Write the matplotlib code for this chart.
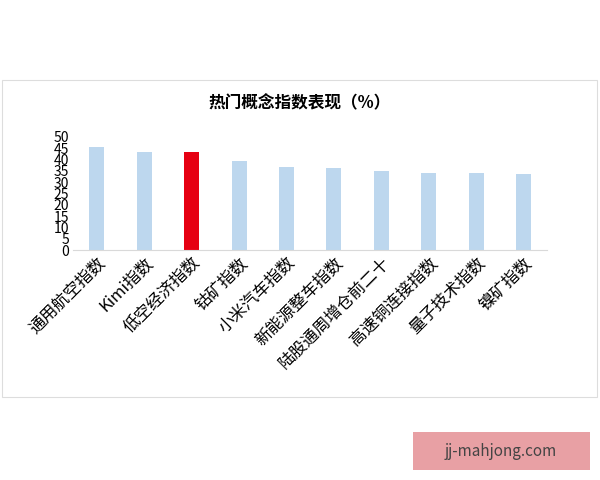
import matplotlib.pyplot as plt
from matplotlib.patches import Rectangle

plt.rcParams['font.family'] = ['Noto Sans CJK SC', 'DejaVu Sans']

categories = ["通用航空指数", "Kimi指数", "低空经济指数", "钴矿指数", "小米汽车指数",
              "新能源整车指数", "陆股通周增仓前二十", "高速铜连接指数", "量子技术指数", "镍矿指数"]
values = [45.7, 43.5, 43.2, 39.1, 36.6, 36.4, 35.0, 34.2, 34.2, 33.5]
highlight = "低空经济指数"

fig = plt.figure(figsize=(6, 4.8), dpi=100)
fig.patches.append(Rectangle((2/600, 1-397/480), 595/600, 317/480, transform=fig.transFigure,
                             fill=False, edgecolor='#dddddd', linewidth=0.8))
ax = fig.add_axes([0.122, 0.479, 0.79, 0.236])
colors = ['#e60012' if c == highlight else '#bdd7ee' for c in categories]
ax.bar(range(len(categories)), values, width=0.32, color=colors)
ax.set_ylim(0, 50)
ax.set_xlim(-0.5, 9.5)
ax.set_yticks(range(0, 51, 5))
ax.tick_params(axis='y', length=0, labelsize=10, pad=3)
ax.tick_params(axis='x', length=0, pad=3)
ax.set_xticks(range(len(categories)))
ax.set_xticklabels(categories, rotation=45, ha='right', rotation_mode='anchor', fontsize=12)
for s in ['top', 'right', 'left']:
    ax.spines[s].set_visible(False)
ax.spines['bottom'].set_color('#d9d9d9')
fig.text(0.5, 1-103/480, "热门概念指数表现（%）", ha='center', va='center', fontsize=12, fontweight='bold')

fig.patches.append(Rectangle((413/600, 1-470/480), 177/600, 38/480, transform=fig.transFigure,
                             facecolor='#e8a0a4', edgecolor='none'))
fig.text(501/600, 1-451/480, "jj-mahjong.com", ha='center', va='center', fontsize=11, color='#444444')
fig.savefig("out.png")
